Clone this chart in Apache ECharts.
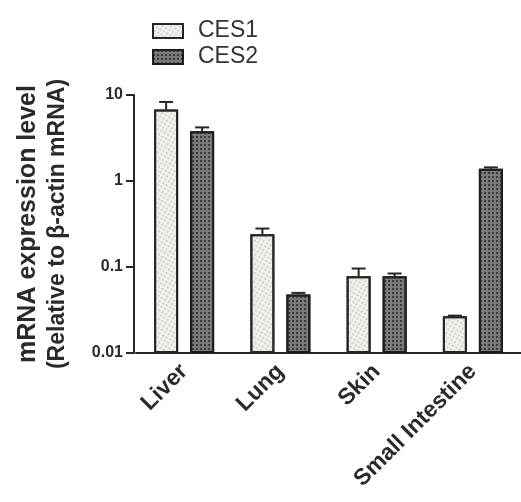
<!DOCTYPE html>
<html>
<head>
<meta charset="utf-8">
<script src="https://cdn.jsdelivr.net/npm/echarts@6/dist/echarts.min.js"></script>
<style>
html,body{margin:0;padding:0;background:#fff;}
#chart{width:521px;height:502px;}
</style>
</head>
<body>
<div id="chart"></div>
<script>
const categories = ['Liver', 'Lung', 'Skin', 'Small Intestine'];
const seriesNames = ['CES1', 'CES2'];
const ces1Mean = [6.8, 0.24, 0.078, 0.0267];
const ces1Upper = [8.3, 0.28, 0.096, 0.0272];
const ces2Mean = [3.8, 0.048, 0.078, 1.39];
const ces2Upper = [4.2, 0.050, 0.084, 1.44];
const yTickLabels = { 0.01: '0.01', 0.1: '0.1', 1: '1', 10: '10' };
const yTitleLine1 = 'mRNA expression level';
const yTitleLine2 = '(Relative to β-actin mRNA)';

const BAR_W = 24;
const HALF_STEP = 18;
const ink = '#262626';

function errorSeries(name, means, uppers, side) {
  return {
    type: 'custom',
    name: name + ' error',
    z: 5,
    data: means.map((m, i) => [i, m, uppers[i]]),
    renderItem: function (params, api) {
      const base = api.coord([api.value(0), api.value(1)]);
      const top = api.coord([api.value(0), api.value(2)]);
      const x = base[0] + side * HALF_STEP;
      const style = { stroke: ink, lineWidth: 2 };
      return {
        type: 'group',
        children: [
          { type: 'line', shape: { x1: x, y1: base[1], x2: x, y2: top[1] }, style: style },
          { type: 'line', shape: { x1: x - 7, y1: top[1], x2: x + 7, y2: top[1] }, style: style }
        ]
      };
    }
  };
}

const chart = echarts.init(document.getElementById('chart'));
chart.setOption({
  backgroundColor: '#ffffff',
  animation: false,
  aria: { enabled: true, decal: { show: true } },
  legend: {
    data: seriesNames,
    orient: 'vertical',
    left: 147,
    top: 14,
    icon: 'rect',
    itemWidth: 30,
    itemHeight: 14,
    itemGap: 2,
    textStyle: { fontFamily: 'Liberation Sans', fontSize: 23, color: '#333', lineHeight: 24, padding: [0, 0, 0, 10] }
  },
  grid: { left: 136, right: -1, top: 95, bottom: 149, containLabel: false },
  xAxis: {
    type: 'category',
    data: categories,
    axisLine: { lineStyle: { color: ink, width: 2 } },
    axisTick: { show: false },
    axisLabel: {
      rotate: 45,
      margin: 15,
      interval: 0,
      fontFamily: 'Liberation Sans',
      fontWeight: 'bold',
      fontSize: 23,
      color: '#2a2a2a'
    }
  },
  yAxis: {
    type: 'log',
    logBase: 10,
    min: 0.01,
    max: 10,
    startValue: 0.01,
    offset: 2,
    name: '{a|' + yTitleLine1 + '}\n{b|' + yTitleLine2 + '}',
    nameLocation: 'middle',
    nameGap: 62,
    nameTextStyle: {
      fontFamily: 'Liberation Sans', fontWeight: 'bold', color: '#2a2a2a', lineHeight: 29,
      rich: {
        a: { fontFamily: 'Liberation Sans', fontWeight: 'bold', fontSize: 25, lineHeight: 29, color: '#2a2a2a' },
        b: { fontFamily: 'Liberation Sans', fontWeight: 'bold', fontSize: 23, lineHeight: 29, color: '#2a2a2a' }
      }
    },
    axisLine: { show: true, lineStyle: { color: ink, width: 2 } },
    axisTick: { show: true, length: 8, lineStyle: { color: ink, width: 2 } },
    minorTick: { show: false },
    splitLine: { show: false },
    axisLabel: {
      margin: 11,
      fontFamily: 'Liberation Sans',
      fontWeight: 'bold',
      fontSize: 16,
      color: '#2a2a2a',
      formatter: function (v) { return yTickLabels[v] !== undefined ? yTickLabels[v] : String(v); }
    }
  },
  series: [
    {
      name: seriesNames[0],
      type: 'bar',
      data: ces1Mean,
      barWidth: BAR_W,
      barGap: '50%',
      itemStyle: {
        color: '#eef0ec',
        borderColor: ink,
        borderWidth: 2,
        decal: { symbol: 'rect', symbolSize: 0.7, color: '#b4b8b0', dashArrayX: [2, 2], dashArrayY: [2, 2] }
      }
    },
    {
      name: seriesNames[1],
      type: 'bar',
      data: ces2Mean,
      barWidth: BAR_W,
      itemStyle: {
        color: '#7a7a7a',
        borderColor: '#1e1e1e',
        borderWidth: 2,
        decal: { symbol: 'rect', symbolSize: 1, color: '#3a3a3a', dashArrayX: [2, 2], dashArrayY: [2, 2] }
      }
    },
    errorSeries(seriesNames[0], ces1Mean, ces1Upper, -1),
    errorSeries(seriesNames[1], ces2Mean, ces2Upper, 1)
  ]
});
</script>
</body>
</html>
